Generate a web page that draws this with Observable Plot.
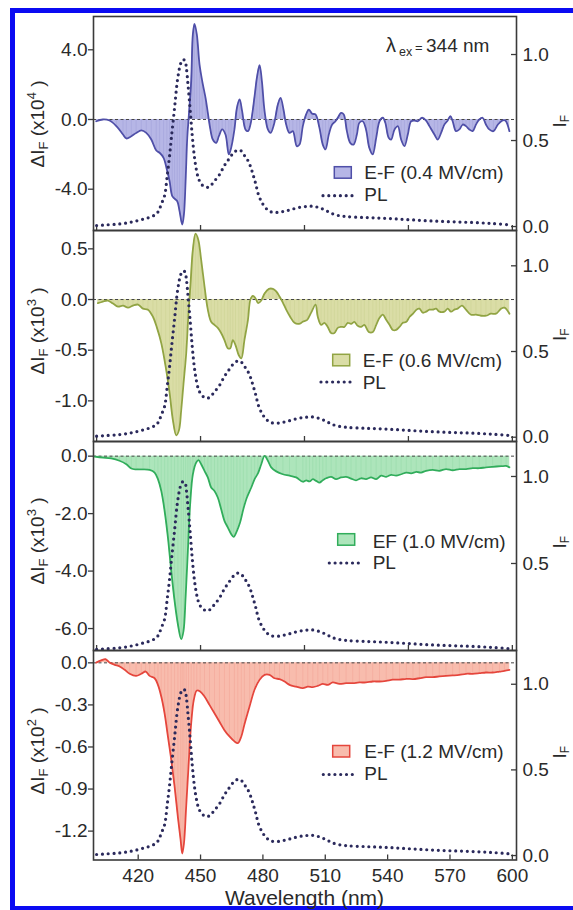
<!DOCTYPE html>
<html><head><meta charset="utf-8">
<script src="https://cdn.jsdelivr.net/npm/d3@7"></script>
<script src="https://cdn.jsdelivr.net/npm/@observablehq/plot@0.6"></script>
<style>
html,body{margin:0;padding:0;background:#fff;}
#root{position:relative;width:573px;height:910px;overflow:hidden;background:#fff;font-family:"Liberation Sans",Arial,sans-serif;}
#frame{position:absolute;left:10px;top:8px;width:640px;height:903px;box-sizing:border-box;border:5px solid #0b0bf2;}
#overlay{position:absolute;left:0;top:0;}
</style></head><body><div id="root"><div id="frame"></div></div>
<script>
// PL spectrum (right axis, I_F normalized)
const pl = [[400,0.006],[405,0.01],[411,0.015],[415,0.022],[419,0.032],[423,0.045],[426,0.056],[428.7,0.073],[430,0.095],[431.1,0.13],[432.7,0.18],[434,0.3],[435,0.4],[436,0.52],[437.5,0.69],[439,0.86],[440.5,0.95],[441.5,0.97],[442.5,0.965],[443.2,0.92],[444,0.82],[445,0.68],[446,0.53],[447,0.41],[448,0.33],[449,0.28],[450.5,0.245],[452,0.232],[453.5,0.228],[455,0.24],[456.7,0.265],[459,0.3],[461.5,0.355],[463.5,0.39],[466,0.43],[468,0.445],[469.5,0.44],[471,0.415],[472.5,0.39],[474,0.35],[475.3,0.3],[476.5,0.25],[478,0.18],[480,0.13],[482,0.1],[484,0.085],[487,0.082],[490,0.088],[493,0.097],[497,0.11],[501,0.117],[504,0.118],[507,0.11],[509.5,0.098],[512,0.083],[515,0.068],[520,0.058],[530,0.052],[540,0.047],[550,0.04],[560,0.033],[570,0.028],[580,0.024],[590,0.018],[599,0.01]];

// Electro-fluorescence difference spectra
const ef04 = [[399.8,-0.1],[403,0],[406.2,-0.06],[409.5,-0.38],[412.7,-0.86],[414.3,-1.09],[416.7,-0.96],[419,-0.77],[421.5,-0.63],[423.9,-0.77],[426.3,-1.15],[428.7,-1.78],[430.3,-1.91],[432.2,-2.2],[433.8,-2.87],[435.1,-3.54],[436.4,-4.4],[437.5,-4.54],[438.8,-4.69],[439.9,-5.26],[441.2,-6.03],[442,-5.45],[442.8,-3.54],[443.6,-1.05],[444.4,0.29],[445.5,2.2],[446.3,4.88],[447.1,5.49],[448.2,4.88],[449.5,3.16],[450.8,2.2],[452.4,1.24],[453.5,0.38],[454.6,-0.48],[455.9,-1.15],[457.5,-1.34],[458.8,-0.96],[460.4,-0.57],[462,-0.86],[463.6,-2.0],[464.7,-1.63],[466.3,-0.57],[467.5,0.67],[468.8,1.15],[470,0.48],[471.6,-0.57],[472.8,-0.67],[474,-0.29],[476,1.34],[477.1,2.39],[478.4,3.12],[479.5,2.2],[480.8,0.48],[482.4,-0.57],[483.7,-0.77],[485.3,-0.29],[487.2,0.86],[488.5,1.24],[489.9,0.57],[491.2,-0.29],[492.8,-0.77],[494.4,-0.67],[496.3,-1.53],[497.6,-1.44],[499.2,-0.38],[500.8,0.29],[502.1,0.57],[503.7,0.33],[505.3,0.29],[507.2,-0.48],[508.8,-1.44],[510.1,-1.72],[511.7,-0.86],[513.3,-0.29],[514.9,-0.1],[516.2,0.13],[517.6,0.38],[518.9,0.29],[520.4,-0.67],[522,-1.34],[523.6,-1.44],[525.2,-0.86],[526.4,-0.19],[528,-0.1],[529.6,-0.57],[531.2,-1.63],[532.8,-2.0],[534.5,-1.05],[536.1,-0.1],[537.7,0.1],[538.9,-0.19],[540.5,-1.05],[541.7,-1.15],[543.3,-0.57],[544.9,-0.38],[546.5,-1.15],[548.1,-1.53],[549.7,-0.86],[551.3,-0.1],[552.9,-0.06],[554.5,-0.1],[556.6,0.1],[558.5,-0.06],[560.1,-0.38],[562.5,-0.86],[564.1,-1.15],[565.7,-0.77],[567.3,-0.29],[568.9,-0.06],[570.2,0.19],[571.3,-0.1],[572.9,-0.67],[574.5,-0.57],[576.1,-0.29],[577.7,-0.38],[579.3,-0.57],[580.9,-0.67],[582.5,-0.29],[584.1,0],[585.7,0.1],[587.3,-0.29],[588.9,-0.57],[590.9,-0.67],[593,-0.29],[595.1,-0.06],[596.6,-0.06],[598.6,-0.67]];

const ef06 = [[400.6,-0.036],[403,-0.02],[405.4,-0.01],[407.9,-0.04],[410.3,-0.07],[412.7,-0.06],[415.1,-0.08],[417.5,-0.06],[419.9,-0.05],[422.3,-0.09],[424.7,-0.1],[427.1,-0.17],[428.9,-0.27],[431.1,-0.43],[433.2,-0.66],[435.1,-0.92],[436.7,-1.19],[438.3,-1.34],[439.6,-1.29],[440.7,-1.09],[441.8,-0.83],[443.1,-0.53],[444.2,-0.13],[445.2,0.16],[446.3,0.49],[447.6,0.65],[448.9,0.59],[450.3,0.39],[451.9,0.13],[453.5,-0.1],[455.1,-0.22],[456.7,-0.25],[458.3,-0.28],[459.9,-0.33],[461.5,-0.4],[463.1,-0.48],[464.3,-0.48],[465.5,-0.4],[466.8,-0.45],[468.4,-0.55],[469.6,-0.58],[471.1,-0.4],[472.8,-0.2],[474,0],[475.2,0.036],[476.4,0.013],[477.7,-0.036],[479.2,-0.01],[480.8,0.06],[482.9,0.105],[484.8,0.105],[486.4,0.08],[488,0.03],[489.6,-0.03],[491.2,-0.1],[493.1,-0.17],[495.2,-0.23],[497.3,-0.24],[499.2,-0.22],[501.3,-0.2],[503.2,-0.13],[505.3,-0.05],[506.4,-0.17],[508,-0.25],[509.6,-0.23],[511.2,-0.27],[512.8,-0.33],[514.4,-0.33],[516,-0.28],[517.6,-0.27],[519.2,-0.27],[520.8,-0.23],[522.4,-0.24],[524,-0.22],[525.6,-0.26],[527.2,-0.27],[528.8,-0.25],[530.9,-0.32],[532.9,-0.32],[534.5,-0.25],[536.1,-0.18],[537.7,-0.15],[539.3,-0.2],[540.9,-0.25],[542.5,-0.3],[544.1,-0.3],[545.7,-0.27],[547.3,-0.23],[549,-0.22],[550.6,-0.17],[552.2,-0.14],[553.8,-0.1],[555.3,-0.09],[556.9,-0.13],[558.5,-0.12],[560.1,-0.1],[561.7,-0.1],[563.3,-0.09],[564.9,-0.12],[567.3,-0.12],[568.9,-0.09],[570.5,-0.12],[572.1,-0.1],[573.7,-0.09],[575.8,-0.06],[577.7,-0.1],[580.1,-0.15],[582.5,-0.15],[584.9,-0.16],[587.3,-0.16],[589.7,-0.14],[592.1,-0.14],[594.6,-0.09],[596.2,-0.08],[598.6,-0.14]];

const ef10 = [[399,-0.02],[403,-0.05],[407,-0.08],[411,-0.16],[414.3,-0.28],[416.7,-0.43],[419,-0.46],[422.3,-0.46],[425.5,-0.48],[427.9,-0.57],[429.5,-0.8],[431.1,-1.21],[432.7,-1.9],[434.3,-2.83],[435.9,-3.99],[437.5,-5.03],[439.1,-5.85],[440.7,-6.37],[441.8,-6.08],[442.8,-4.92],[443.9,-3.29],[445,-1.67],[446.3,-0.63],[447.9,-0.22],[449,-0.14],[450.3,-0.28],[451.9,-0.51],[453.5,-0.74],[455.1,-1.09],[456.7,-1.21],[458.3,-1.44],[459.9,-1.84],[461.5,-2.25],[463.1,-2.48],[464.7,-2.71],[465.9,-2.81],[467.5,-2.6],[469,-2.31],[470.6,-1.84],[472.3,-1.44],[474.4,-1.09],[476,-0.8],[477.6,-0.6],[479.2,-0.28],[480.8,0.01],[482.4,-0.16],[484,-0.39],[486.4,-0.53],[489.6,-0.63],[492.8,-0.68],[496,-0.74],[499.2,-0.89],[500.8,-0.84],[502.4,-0.88],[504,-0.8],[505.6,-0.86],[507.2,-0.92],[508.8,-0.84],[510.4,-0.77],[512.8,-0.72],[515.2,-0.8],[517.6,-0.74],[520,-0.72],[522.4,-0.78],[524.8,-0.84],[527.2,-0.77],[529.6,-0.8],[532,-0.74],[534.5,-0.8],[536.9,-0.68],[539.3,-0.72],[541.7,-0.65],[544.1,-0.68],[546.5,-0.63],[549,-0.57],[551.3,-0.6],[553.8,-0.55],[556.1,-0.57],[558.5,-0.51],[561.7,-0.48],[564.9,-0.51],[568.1,-0.45],[571.3,-0.49],[574.5,-0.45],[577.7,-0.45],[580.9,-0.42],[584.1,-0.42],[587.3,-0.39],[590.5,-0.37],[594.6,-0.35],[597,-0.34],[598.6,-0.39]];

const ef12 = [[399.8,0.002],[402.2,0.017],[404.3,0.026],[406.2,0.002],[408.7,-0.014],[411.1,-0.026],[413.5,-0.05],[415.9,-0.078],[419,-0.093],[421.5,-0.078],[423.6,-0.062],[425.5,-0.093],[427.9,-0.11],[429.5,-0.157],[431.1,-0.24],[432.7,-0.36],[434.3,-0.525],[435.9,-0.69],[437.5,-0.88],[439.1,-1.1],[440.4,-1.26],[441.2,-1.36],[442,-1.29],[443.1,-1.02],[444.2,-0.74],[445.5,-0.43],[446.8,-0.26],[448.2,-0.197],[449.8,-0.204],[451.9,-0.24],[454.3,-0.3],[456.7,-0.36],[459.1,-0.42],[461.5,-0.48],[463.9,-0.525],[466.3,-0.56],[467.9,-0.573],[469.6,-0.525],[471.1,-0.44],[473.6,-0.31],[476,-0.19],[478.4,-0.12],[480.8,-0.086],[483.2,-0.086],[485.6,-0.11],[488,-0.116],[490.4,-0.133],[492.8,-0.157],[496,-0.17],[499.2,-0.18],[501.6,-0.17],[504,-0.173],[506.4,-0.164],[508.8,-0.15],[511.2,-0.157],[513.6,-0.14],[516.8,-0.15],[520,-0.145],[523.2,-0.145],[526.4,-0.14],[529.6,-0.14],[532.8,-0.133],[536.1,-0.133],[539.3,-0.128],[542.5,-0.12],[545.7,-0.12],[549,-0.114],[552.2,-0.116],[555.3,-0.11],[558.5,-0.102],[561.7,-0.102],[564.9,-0.097],[568.1,-0.093],[571.3,-0.09],[574.5,-0.086],[577.7,-0.078],[580.9,-0.078],[584.1,-0.074],[587.3,-0.069],[590.5,-0.069],[593.8,-0.062],[596.2,-0.057],[598.6,-0.05]];

const xTicksInner = [400, 450, 500, 550, 600];
const xTicksBottom = [420, 450, 480, 510, 540, 570, 600];
const legendLabels = ["E-F (0.4 MV/cm)", "E-F (0.6 MV/cm)", "EF (1.0 MV/cm)", "E-F (1.2 MV/cm)"];
const yExponents = ["4", "3", "3", "2"];

const panels = [
  {data: ef04, top: 16, bottom: 230, yDomain: [-6.37, 5.91], yTicks: [-4, 0, 4], plDomain: [-0.023, 1.221], plTicks: [0, 0.5, 1],
   fill: "#b6b6e6", stroke: "#4f4fa8", titleY: 124, ifY: 127.6,
   leg: {bx: 334.3, by: 166.7, tx: 364.3, ty: 179, lx1: 323, lx2: 352.7, ly: 195.7, pty: 200.5}},
  {data: ef06, top: 230, bottom: 441, yDomain: [-1.401, 0.681], yTicks: [-1, -0.5, 0, 0.5], plDomain: [-0.025, 1.206], plTicks: [0, 0.5, 1],
   fill: "#dadda6", stroke: "#91a443", titleY: 331, ifY: 341,
   leg: {bx: 332.7, by: 354.3, tx: 362.7, ty: 366.5, lx1: 321, lx2: 352.7, ly: 382, pty: 389.3}},
  {data: ef10, top: 441, bottom: 650, yDomain: [-6.764, 0.51], yTicks: [-6, -4, -2, 0], plDomain: [0.0, 1.201], plTicks: [0.5, 1],
   fill: "#ade5bb", stroke: "#31ad5b", titleY: 541, ifY: 548.6,
   leg: {bx: 337.7, by: 533.7, tx: 372.7, ty: 547.5, lx1: 329.3, lx2: 362.7, ly: 563, pty: 568.7}},
  {data: ef12, top: 650, bottom: 859.5, yDomain: [-1.406, 0.088], yTicks: [-1.2, -0.9, -0.6, -0.3, 0], plDomain: [-0.026, 1.197], plTicks: [0, 0.5, 1],
   fill: "#f8bcad", stroke: "#e5463c", titleY: 751, ifY: 758.6,
   leg: {bx: 332.7, by: 745.5, tx: 364.3, ty: 758, lx1: 323.3, lx2: 352.7, ly: 774.5, pty: 779.5}}
];

const root = document.getElementById("root");
const W = 573, L = 93, R = 516, MT = 10, MB = 30;
const X_DOMAIN = [398.5, 602];
const AXIS = "#3a3a3a";
const TXT = "#2a2a2a";
const FONT = "'Liberation Sans', Arial, sans-serif";
const PLCOLOR = "#2b2a5c";
const fmt = d => d.toFixed(1);

panels.forEach((p, i) => {
  const H = p.bottom - p.top;
  const last = i === panels.length - 1;
  const baseStyle = {position: "absolute", left: "0px", top: (p.top - MT) + "px", background: "transparent",
    fontFamily: FONT, fontSize: "19px", color: TXT, overflow: "visible"};
  const common = {width: W, height: H + MT + MB, marginTop: MT, marginBottom: MB, marginLeft: L, marginRight: W - R, style: baseStyle};

  const marks = [
    Plot.areaY(p.data, {x: d => d[0], y1: 0, y2: d => d[1], fill: p.fill, curve: "catmull-rom"}),
    Plot.ruleX(p.data, {x: d => d[0], y1: 0, y2: d => d[1], stroke: p.stroke, strokeOpacity: 0.13, strokeWidth: 0.8}),
    Plot.ruleY([0], {stroke: "#444", strokeDasharray: "3,2.5", strokeWidth: 1}),
    Plot.lineY(p.data, {x: d => d[0], y: d => d[1], stroke: p.stroke, strokeWidth: 1.8, curve: "catmull-rom"}),
    Plot.gridX(last ? xTicksBottom : xTicksInner, {stroke: AXIS, strokeOpacity: 1, strokeWidth: 1.3, insetTop: H - 5}),
    Plot.axisY({anchor: "left", ticks: p.yTicks, tickSize: 5, tickPadding: 1, tickFormat: fmt, label: null, stroke: AXIS, strokeWidth: 1.3})
  ];
  if (last) marks.push(Plot.axisX({anchor: "bottom", ticks: xTicksBottom, tickSize: 0, tickPadding: 8, label: null, tickFormat: d => String(d)}));
  marks.push(Plot.frame({stroke: AXIS, strokeWidth: 1.6}));

  const a = Plot.plot({...common,
    x: {domain: X_DOMAIN, axis: last ? undefined : null},
    y: {domain: p.yDomain},
    marks});
  root.appendChild(a);

  const b = Plot.plot({...common,
    x: {domain: X_DOMAIN, axis: null},
    y: {domain: p.plDomain},
    marks: [
      Plot.lineY(pl, {x: d => d[0], y: d => d[1], stroke: PLCOLOR, strokeWidth: 3.2, strokeDasharray: "0,5.8", strokeLinecap: "round", curve: "catmull-rom"}),
      Plot.gridY(p.plTicks, {stroke: AXIS, strokeOpacity: 1, strokeWidth: 1.3, insetLeft: (R - L) - 5}),
      Plot.axisY({anchor: "right", ticks: p.plTicks, tickSize: 0, tickPadding: 6, tickFormat: fmt, label: null})
    ]});
  root.appendChild(b);
});

// Overlay: axis titles, legends, annotation
const svg = d3.select(root).append("svg").attr("id", "overlay")
  .attr("width", W).attr("height", 910)
  .style("font-family", FONT).attr("fill", TXT);

panels.forEach((p, i) => {
  // left title
  const t = svg.append("text").attr("text-anchor", "middle").attr("font-size", 19)
    .attr("transform", `translate(43.5,${p.titleY}) rotate(-90)`);
  t.append("tspan").text("ΔI");
  t.append("tspan").attr("font-size", 13).attr("dy", 4).text("F");
  t.append("tspan").attr("dy", -4).text(" (x10");
  t.append("tspan").attr("font-size", 13).attr("dy", -8).text(yExponents[i]);
  t.append("tspan").attr("dy", 8).text(" )");
  // right title, kept inside the picture edge
  const r = svg.append("text").attr("text-anchor", "start").attr("font-size", 19)
    .attr("transform", `translate(565.5,${p.ifY}) rotate(-90)`);
  r.append("tspan").text("I");
  r.append("tspan").attr("font-size", 12).attr("dy", 3).text("F");
  // legend
  const g = p.leg;
  svg.append("rect").attr("x", g.bx).attr("y", g.by).attr("width", 17).attr("height", 11.5)
    .attr("fill", p.fill).attr("stroke", p.stroke).attr("stroke-width", 1.5);
  svg.append("text").attr("x", g.tx).attr("y", g.ty).attr("font-size", 19).text(legendLabels[i]);
  svg.append("line").attr("x1", g.lx1).attr("x2", g.lx2).attr("y1", g.ly).attr("y2", g.ly)
    .attr("stroke", PLCOLOR).attr("stroke-width", 3.2).attr("stroke-dasharray", "0,5.8").attr("stroke-linecap", "round");
  svg.append("text").attr("x", g.tx).attr("y", g.pty).attr("font-size", 19).text("PL");
});

// excitation annotation
const ex = svg.append("text").attr("y", 51.5).attr("font-size", 19);
ex.append("tspan").attr("x", 386).attr("font-size", 20).text("λ");
ex.append("tspan").attr("x", 399).attr("font-size", 12.5).attr("dy", 4.5).text("ex");
ex.append("tspan").attr("x", 415).attr("font-size", 13).attr("dy", -4.5).text("=");
ex.append("tspan").attr("x", 426).text("344 nm");

// x-axis title
svg.append("text").attr("x", (L + R) / 2).attr("y", 905).attr("text-anchor", "middle").attr("font-size", 21).text("Wavelength (nm)");
</script></body></html>
